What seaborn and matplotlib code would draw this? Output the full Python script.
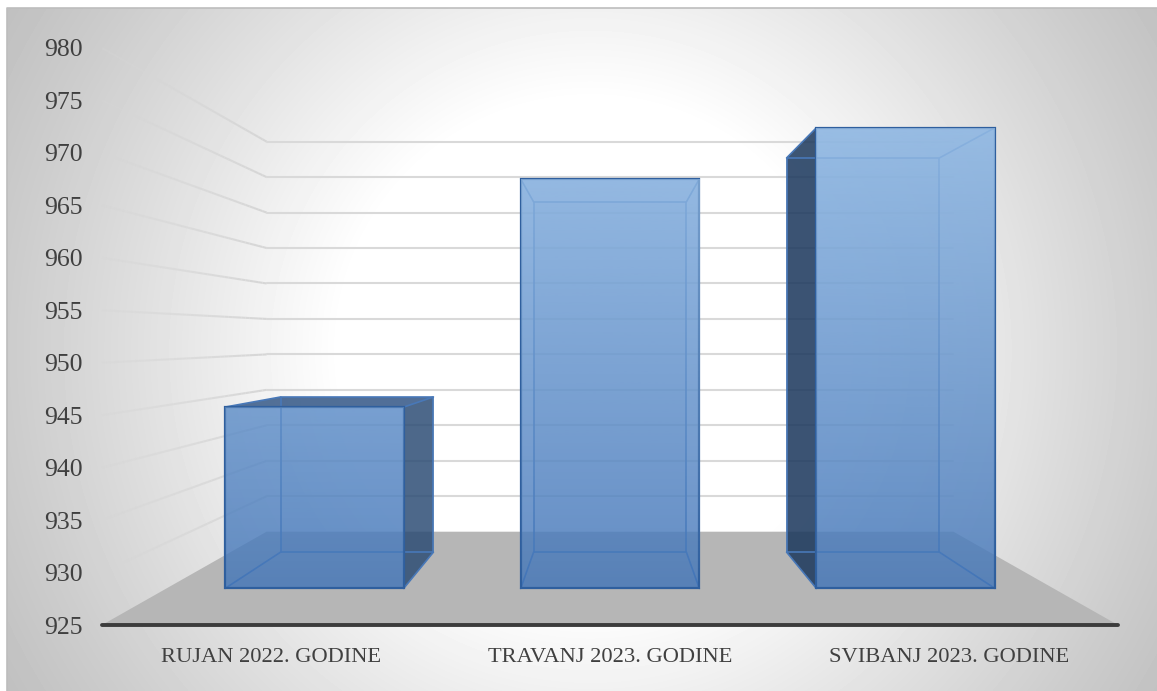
#! /usr/bin/env python3

import numpy as np
import pandas as pd
import matplotlib
matplotlib.use("Agg")
import matplotlib.pyplot as plt
from matplotlib.collections import LineCollection
import seaborn as sns

months = ["RUJAN 2022. GODINE", "TRAVANJ 2023. GODINE", "SVIBANJ 2023. GODINE"]
counts = [944.8, 969.7, 975.3]
y_ticks = [925, 930, 935, 940, 945, 950, 955, 960, 965, 970, 975, 980]

W, H = 1157, 691
Y_MIN, Y_MAX = 925, 980
# front plane of the 3d box in pixels
LEFT, RIGHT, TOP, BOTTOM = 102, 1118, 48, 625
VP_Y_PX = 337
VP_X = 1.0
VP_Y = Y_MIN + (BOTTOM - VP_Y_PX) / (BOTTOM - TOP) * (Y_MAX - Y_MIN)
# depth scale factors towards the vanishing point
K_WALL, K_BAR_FRONT, K_BAR_BACK = 0.676, 0.873, 0.747
BAR_W = 0.604

TEXT = "#404040"
GRID = "#d9d9d9"
FLOOR = "#b6b6b6"
BAR = (66 / 255, 117 / 255, 184 / 255)
EDGE_FRONT = "#2f5f9e"
EDGE_BACK = "#4878b8"

sns.set_theme(style="white")
plt.rcParams["font.family"] = ["Liberation Serif", "DejaVu Serif"]


def project(x, v, k):
    return VP_X + (np.asarray(x, float) - VP_X) * k, VP_Y + (np.asarray(v, float) - VP_Y) * k


def frame(k):
    cx = (LEFT + RIGHT) / 2
    l = cx + (LEFT - cx) * k
    r = cx + (RIGHT - cx) * k
    t = VP_Y_PX + (TOP - VP_Y_PX) * k
    b = VP_Y_PX + (BOTTOM - VP_Y_PX) * k
    return [l / W, 1 - b / H, (r - l) / W, (b - t) / H]


fig = plt.figure(figsize=(W / 100, H / 100), dpi=100, facecolor="white")

# backdrop, radial gradient
bg = fig.add_axes([0, 0, 1, 1], zorder=0)
xx, yy = np.meshgrid(np.arange(7, W), np.arange(8, H))
dist = np.hypot(xx - 590, yy - 350)
shade = np.interp(dist, [0, 250, 460, 575, 690], [255, 255, 222, 205, 190])
bg.imshow(shade, cmap="gray", vmin=0, vmax=255, extent=(7, W, H, 8), aspect="auto")
bg.plot([7, 7, W], [H, 8, 8], color="#bdbdbd", lw=1.2)
bg.set_xlim(0, W)
bg.set_ylim(H, 0)
bg.axis("off")

# walls and floor live on the front plane axes
ax = fig.add_axes(frame(1), zorder=1)
ax.patch.set_visible(False)
ax.set_xlim(-0.5, 2.5)
ax.set_ylim(Y_MIN, Y_MAX)

fx, fy = project([-0.5, 2.5, 2.5, -0.5], [Y_MIN] * 4, [1, 1, K_WALL, K_WALL])
ax.fill(fx, fy, color=FLOOR, lw=0, clip_on=False, zorder=1)

for v in y_ticks:
    if v == Y_MIN:
        continue
    k = np.linspace(1, K_WALL, 40)
    gx, gy = project(np.full(40, -0.5), np.full(40, v), k)
    pts = np.column_stack([gx, gy])
    segs = np.stack([pts[:-1], pts[1:]], axis=1)
    lc = LineCollection(segs, linewidths=1.5, clip_on=False, zorder=2,
                        colors=[(0.84, 0.84, 0.84, a) for a in np.linspace(0.3, 1, 39)])
    ax.add_collection(lc)
    bx, by = project([-0.5, 2.5], [v, v], K_WALL)
    ax.plot(bx, by, color=GRID, lw=1.5, clip_on=False, zorder=2)

# back, inner and side faces of the bars
for i, val in enumerate(counts):
    x0, x1 = i - BAR_W / 2, i + BAR_W / 2
    fl, bot_f = project(x0, Y_MIN, K_BAR_FRONT)
    fr, top_f = project(x1, val, K_BAR_FRONT)
    bl, bot_b = project(x0, Y_MIN, K_BAR_BACK)
    br, top_b = project(x1, val, K_BAR_BACK)

    ax.fill([bl, br, br, bl], [bot_b, bot_b, top_b, top_b], color=BAR, alpha=0.1, lw=0, zorder=3)
    ax.fill([fl, fr, br, bl], [bot_f, bot_f, bot_b, bot_b], color=BAR, alpha=0.05, lw=0, zorder=3)

    if bl < fl:
        ax.fill([fl, bl, bl, fl], [bot_f, bot_b, top_b, top_f], color="#1c385c", alpha=0.85, lw=0, zorder=4)
    if br > fr:
        ax.fill([fr, br, br, fr], [bot_f, bot_b, top_b, top_f], color="#2a4a72", alpha=0.82, lw=0, zorder=4)
    if top_b > top_f:
        ax.fill([fl, fr, br, bl], [top_f, top_f, top_b, top_b], color="#2a4f80", alpha=0.8, lw=0, zorder=4)

    edge = dict(color=EDGE_BACK, lw=1.2, zorder=5, solid_joinstyle="round")
    ax.plot([bl, br, br, bl, bl], [bot_b, bot_b, top_b, top_b, bot_b], **edge)
    for px, qx in ((fl, bl), (fr, br)):
        ax.plot([px, qx], [bot_f, bot_b], **edge)
        ax.plot([px, qx], [top_f, top_b], **edge)

ax.set_xticks(range(len(months)))
ax.set_xticklabels(months)
ax.set_yticks(y_ticks)
ax.tick_params(axis="x", length=0, pad=16.5, labelsize=16.2, labelcolor=TEXT)
ax.tick_params(axis="y", length=0, pad=14, labelsize=18.5, labelcolor=TEXT)
ax.grid(False)
sns.despine(ax=ax, left=True, top=True, right=True)
ax.spines["bottom"].set_color("#3c3c3c")
ax.spines["bottom"].set_linewidth(2.8)
ax.spines["bottom"].set_capstyle("round")
ax.set_xlabel("")
ax.set_ylabel("")

# front faces, on an axes shrunk to the depth of the bars
bar_ax = fig.add_axes(frame(K_BAR_FRONT), zorder=2)
df = pd.DataFrame({"month": months, "count": counts})
sns.barplot(data=df, x="month", y="count", ax=bar_ax, color=BAR, saturation=1, width=BAR_W)
bar_ax.set_ylim(Y_MIN, Y_MAX)
bar_ax.set_xlim(-0.5, 2.5)
ramp = np.zeros((256, 1, 4))
ramp[..., 0], ramp[..., 1], ramp[..., 2] = 195 / 255, 228 / 255, 1.0
ramp[:, 0, 3] = np.linspace(0.55, 0.0, 256)
for patch, val in zip(bar_ax.patches, counts):
    patch.set_y(Y_MIN)
    patch.set_height(val - Y_MIN)
    patch.set_facecolor((*BAR, 0.8))
    patch.set_edgecolor(EDGE_FRONT)
    patch.set_linewidth(1.6)
    patch.set_clip_on(False)
    im = bar_ax.imshow(ramp, extent=(-0.5, 2.5, Y_MIN, counts[-1]), aspect="auto", zorder=3)
    im.set_clip_path(patch)
bar_ax.set_ylim(Y_MIN, Y_MAX)
bar_ax.set_xlim(-0.5, 2.5)
bar_ax.axis("off")

fig.savefig("out.png", dpi=100)
